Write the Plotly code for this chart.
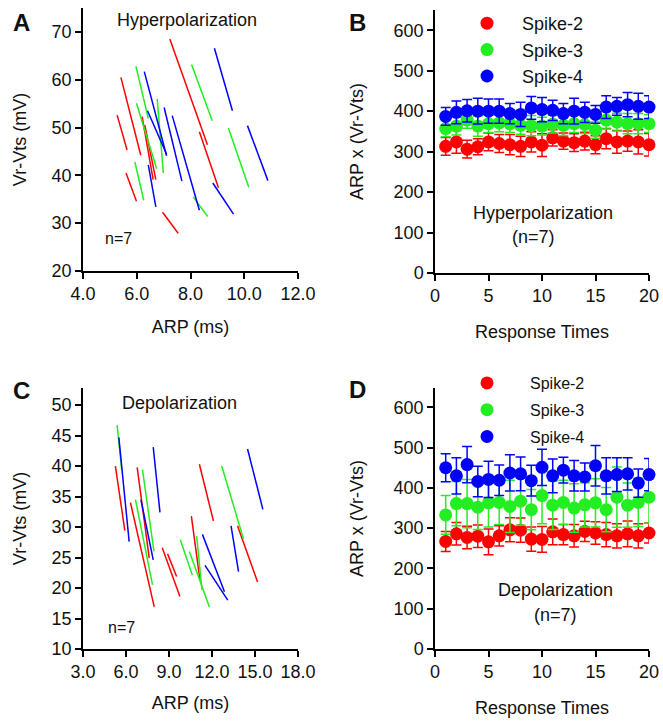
import plotly.graph_objects as go

W, H = 663, 721
FONT = "Liberation Sans, Arial, sans-serif"
RED, GREEN, BLUE = "#ff0000", "#22ee22", "#0000ff"

# Panel A: ARP (ms) vs Vr-Vts (mV), hyperpolarization, segments ((x0, y0), (x1, y1))
A_RED = [((5.27, 52.6), (5.64, 45.3)), ((5.41, 60.5), (6.15, 44.2)),
         ((5.60, 40.5), (5.99, 34.6)), ((6.20, 52.3), (6.61, 39.1)),
         ((6.30, 50.5), (6.71, 39.1)), ((7.23, 68.5), (8.63, 46.4)),
         ((8.33, 49.1), (9.04, 37.4)), ((6.96, 32.3), (7.54, 27.9))]
A_GREEN = [((5.97, 62.8), (6.43, 51.9)), ((5.99, 55.1), (6.74, 41.4)),
           ((6.76, 56.0), (6.99, 40.5)), ((5.93, 42.8), (6.26, 34.8)),
           ((8.04, 63.2), (8.81, 51.4)), ((9.41, 49.9), (10.17, 37.5)),
           ((8.10, 35.5), (8.64, 31.4))]
A_BLUE = [((6.28, 61.7), (7.11, 44.1)), ((6.40, 53.5), (7.11, 44.4)),
          ((7.02, 54.2), (7.68, 38.8)), ((7.32, 52.5), (8.33, 32.7)),
          ((6.43, 42.2), (6.71, 33.4)), ((8.89, 66.6), (9.56, 53.5)),
          ((10.12, 50.4), (10.88, 38.9)), ((8.83, 38.4), (9.60, 31.9))]

# Panel C: depolarization
C_RED = [((5.26, 40.0), (5.92, 29.4)), ((6.31, 34.0), (7.97, 16.9)),
         ((6.78, 39.8), (7.62, 24.9)), ((8.53, 26.6), (9.76, 18.6)),
         ((8.90, 25.6), (9.53, 21.9)), ((10.56, 31.8), (11.16, 21.3)),
         ((11.12, 40.3), (12.10, 31.0)), ((13.78, 30.2), (15.18, 21.0))]
C_GREEN = [((5.38, 46.7), (5.70, 39.4)), ((6.66, 34.5), (7.85, 20.5)),
           ((7.15, 39.4), (7.95, 26.0)), ((9.79, 27.9), (10.63, 22.1)),
           ((10.42, 26.0), (11.82, 16.9)), ((10.93, 28.5), (11.30, 19.7)),
           ((12.68, 40.0), (14.20, 28.0))]
C_BLUE = [((5.50, 44.7), (6.22, 27.6)), ((7.04, 34.5), (7.90, 24.6)),
          ((7.90, 43.1), (8.37, 32.4)), ((11.33, 28.8), (12.87, 19.4)),
          ((11.51, 23.7), (13.10, 18.0)), ((13.33, 30.2), (13.85, 22.7)),
          ((14.48, 42.8), (15.55, 32.9))]

# Panels B / D: ARP x (Vr-Vts) over response times
TIMES = list(range(1, 21))
B_RED = [313, 324, 306, 312, 324, 320, 317, 313, 324, 316, 334, 326, 322, 326, 317, 332, 324, 326, 324, 317]
B_RED_ERR = [22, 28, 22, 20, 22, 22, 25, 25, 25, 28, 20, 20, 22, 22, 22, 25, 28, 25, 30, 28]
B_GREEN = [357, 363, 378, 363, 369, 371, 369, 365, 364, 363, 368, 365, 369, 367, 353, 378, 373, 369, 369, 369]
B_GREEN_ERR = [20, 22, 20, 25, 22, 22, 22, 22, 25, 22, 22, 25, 22, 22, 20, 22, 22, 25, 25, 22]
B_BLUE = [387, 397, 401, 400, 400, 400, 394, 392, 408, 404, 402, 394, 400, 397, 392, 410, 412, 416, 412, 410]
B_BLUE_ERR = [22, 28, 28, 32, 30, 30, 25, 30, 28, 30, 25, 25, 32, 25, 22, 28, 22, 30, 32, 28]

D_RED = [267, 286, 277, 280, 266, 281, 296, 295, 273, 272, 291, 284, 281, 292, 288, 284, 281, 286, 281, 288]
D_RED_ERR = [25, 28, 28, 28, 32, 25, 30, 30, 30, 32, 32, 25, 28, 25, 28, 30, 30, 32, 30, 25]
D_GREEN = [333, 361, 361, 352, 363, 364, 354, 367, 346, 381, 357, 364, 350, 358, 363, 346, 377, 357, 364, 377]
D_GREEN_ERR = [48, 55, 60, 55, 60, 55, 65, 60, 50, 70, 60, 55, 60, 55, 60, 55, 75, 55, 60, 65]
D_BLUE = [450, 430, 458, 416, 421, 419, 437, 435, 418, 451, 430, 444, 430, 427, 455, 430, 433, 435, 412, 433]
D_BLUE_ERR = [35, 45, 45, 38, 45, 38, 45, 42, 38, 45, 42, 32, 38, 35, 50, 45, 42, 40, 35, 40]

SPIKES = ["Spike-2", "Spike-3", "Spike-4"]


def px(x):
    return x / W


def py(y):
    return 1 - y / H


def seg_trace(segs, color, xa, ya):
    xs, ys = [], []
    for (x0, y0), (x1, y1) in segs:
        xs += [x0, x1, None]
        ys += [y0, y1, None]
    return go.Scatter(x=xs, y=ys, mode="lines", xaxis=xa, yaxis=ya,
                      line=dict(color=color, width=1.5), showlegend=False,
                      hoverinfo="skip")


def dot_trace(vals, errs, color, name, xa, ya, legend):
    return go.Scatter(
        x=TIMES, y=vals, mode="markers", name=name, xaxis=xa, yaxis=ya,
        legend=legend, legendgroup=legend + name, cliponaxis=False,
        marker=dict(color=color, size=13, line=dict(width=0)),
        error_y=dict(type="data", array=errs, color=color, thickness=1.5, width=5),
    )


fig = go.Figure()
for segs, c in [(A_RED, RED), (A_GREEN, GREEN), (A_BLUE, BLUE)]:
    fig.add_trace(seg_trace(segs, c, "x", "y"))
for segs, c in [(C_RED, RED), (C_GREEN, GREEN), (C_BLUE, BLUE)]:
    fig.add_trace(seg_trace(segs, c, "x3", "y3"))
for v, e, c, n in zip([B_RED, B_GREEN, B_BLUE], [B_RED_ERR, B_GREEN_ERR, B_BLUE_ERR],
                      [RED, GREEN, BLUE], SPIKES):
    fig.add_trace(dot_trace(v, e, c, n, "x2", "y2", "legend"))
for v, e, c, n in zip([D_RED, D_GREEN, D_BLUE], [D_RED_ERR, D_GREEN_ERR, D_BLUE_ERR],
                      [RED, GREEN, BLUE], SPIKES):
    fig.add_trace(dot_trace(v, e, c, n, "x4", "y4", "legend2"))

axis_common = dict(
    showline=True, linecolor="black", linewidth=1.5, showgrid=False, zeroline=False,
    ticks="outside", ticklen=6, tickwidth=1.5, tickcolor="black", automargin=False,
    tickfont=dict(family=FONT, size=18, color="#111"),
    title_font=dict(family=FONT, size=18, color="#111"),
)

fig.update_layout(
    width=W, height=H, margin=dict(l=0, r=0, t=0, b=0),
    paper_bgcolor="white", plot_bgcolor="white",
    font=dict(family=FONT, color="#111"),
    xaxis=dict(axis_common, domain=[px(83), px(298)], range=[4, 12], dtick=2,
               tickformat=".1f", anchor="y", title=dict(text="ARP (ms)", standoff=17)),
    yaxis=dict(axis_common, domain=[py(271), py(8)], range=[20, 75],
               tickvals=[20, 30, 40, 50, 60, 70], anchor="x",
               title=dict(text="Vr-Vts (mV)", standoff=20)),
    xaxis2=dict(axis_common, domain=[px(435), px(649)], range=[0, 20], dtick=5,
                anchor="y2", title=dict(text="Response Times", standoff=20)),
    yaxis2=dict(axis_common, domain=[py(273), py(10)], range=[0, 650],
                tickvals=[0, 100, 200, 300, 400, 500, 600], anchor="x2",
                title=dict(text="ARP x (Vr-Vts)", standoff=25)),
    xaxis3=dict(axis_common, domain=[px(83), px(298)], range=[3, 18], dtick=3,
                tickformat=".1f", anchor="y3", title=dict(text="ARP (ms)", standoff=15)),
    yaxis3=dict(axis_common, domain=[py(649), py(388)], range=[10, 52.8],
                tickvals=[10, 15, 20, 25, 30, 35, 40, 45, 50], anchor="x3",
                title=dict(text="Vr-Vts (mV)", standoff=20)),
    xaxis4=dict(axis_common, domain=[px(435), px(649)], range=[0, 20], dtick=5,
                anchor="y4", title=dict(text="Response Times", standoff=20)),
    yaxis4=dict(axis_common, domain=[py(649), py(388)], range=[0, 648],
                tickvals=[0, 100, 200, 300, 400, 500, 600], anchor="x4",
                title=dict(text="ARP x (Vr-Vts)", standoff=25)),
    legend=dict(x=px(452), y=py(5), xanchor="left", yanchor="top",
                bgcolor="rgba(0,0,0,0)", itemwidth=60, tracegroupgap=0,
                font=dict(family=FONT, size=18, color="#111")),
    legend2=dict(x=px(444), y=py(366), xanchor="left", yanchor="top",
                 bgcolor="rgba(0,0,0,0)", itemwidth=76, tracegroupgap=3,
                 font=dict(family=FONT, size=16, color="#111")),
)

notes = [
    ("<b>A</b>", 21, 23, 24), ("<b>B</b>", 357, 23, 24),
    ("<b>C</b>", 21, 390, 24), ("<b>D</b>", 357, 389, 24),
    ("Hyperpolarization", 187, 20, 18), ("n=7", 118, 238, 16),
    ("Hyperpolarization", 543, 213, 18), ("(n=7)", 533, 237, 18),
    ("Depolarization", 179, 403, 18), ("n=7", 121, 627, 16),
    ("Depolarization", 555, 590, 18), ("(n=7)", 555, 615, 18),
]
for text, x, y, size in notes:
    fig.add_annotation(text=text, x=px(x), y=py(y), xref="paper", yref="paper",
                       showarrow=False, xanchor="center", yanchor="middle",
                       font=dict(family=FONT, size=size, color="#111"))

# the page's default body margin would shift the figure by 8px
fig.write_html("out.html", config={"displayModeBar": False},
               post_script="document.body.style.margin = '0';")
